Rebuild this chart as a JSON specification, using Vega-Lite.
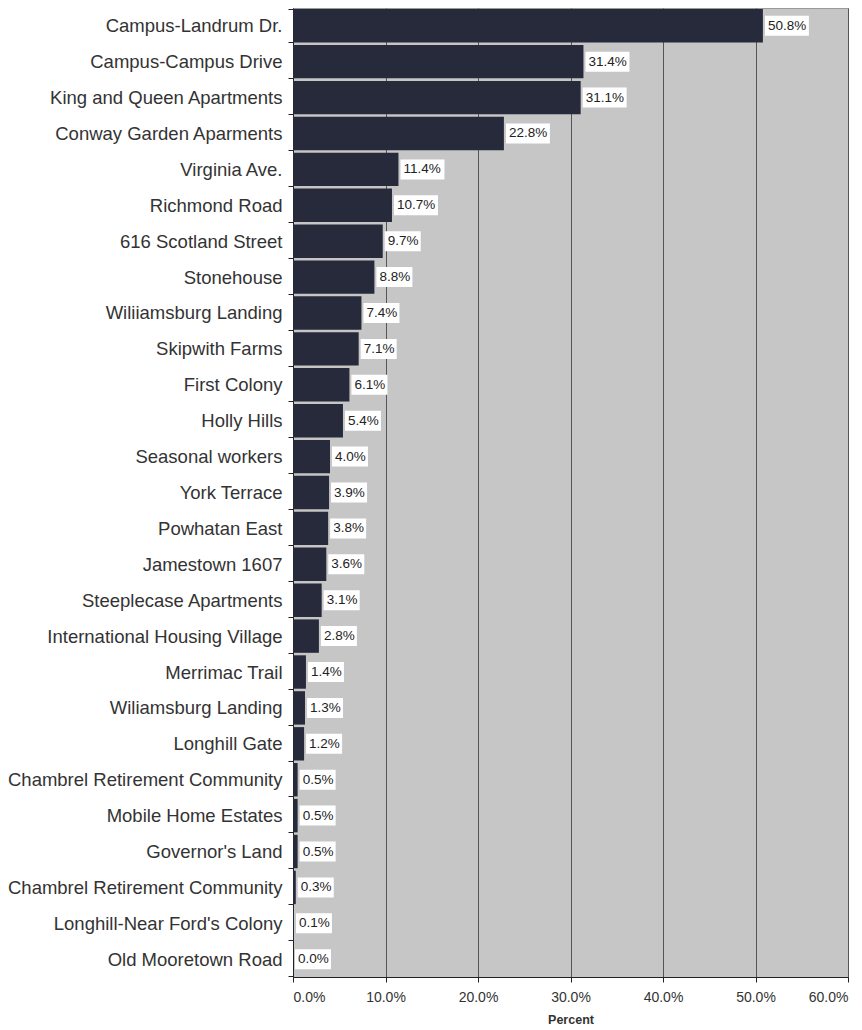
{
  "$schema": "https://vega.github.io/schema/vega-lite/v6.json",
  "autosize": {"type": "none"},
  "padding": {"left": 293, "top": 8, "right": 14, "bottom": 53},
  "width": 555,
  "height": 969,
  "background": "white",
  "config": {
    "font": "Liberation Sans",
    "view": {"fill": "#c6c6c6", "stroke": "#9a9a9a", "strokeWidth": 1}
  },
  "data": {
    "values": [
      {"name": "Campus-Landrum Dr.", "v": 0.508},
      {"name": "Campus-Campus Drive", "v": 0.314},
      {"name": "King and Queen Apartments", "v": 0.311},
      {"name": "Conway Garden Aparments", "v": 0.228},
      {"name": "Virginia Ave.", "v": 0.114},
      {"name": "Richmond Road", "v": 0.107},
      {"name": "616 Scotland Street", "v": 0.097},
      {"name": "Stonehouse", "v": 0.088},
      {"name": "Wiliiamsburg Landing", "v": 0.074},
      {"name": "Skipwith Farms", "v": 0.071},
      {"name": "First Colony", "v": 0.061},
      {"name": "Holly Hills", "v": 0.054},
      {"name": "Seasonal workers", "v": 0.040},
      {"name": "York Terrace", "v": 0.039},
      {"name": "Powhatan East", "v": 0.038},
      {"name": "Jamestown 1607", "v": 0.036},
      {"name": "Steeplecase Apartments", "v": 0.031},
      {"name": "International Housing Village", "v": 0.028},
      {"name": "Merrimac Trail", "v": 0.014},
      {"name": "Wiliamsburg Landing", "v": 0.013},
      {"name": "Longhill Gate", "v": 0.012},
      {"name": "Chambrel Retirement Community", "v": 0.005},
      {"name": "Mobile Home Estates", "v": 0.005},
      {"name": "Governor's Land", "v": 0.005},
      {"name": "Chambrel Retirement Community ", "v": 0.003},
      {"name": "Longhill-Near Ford's Colony", "v": 0.001},
      {"name": "Old Mooretown Road", "v": 0.000}
    ]
  },
  "encoding": {
    "y": {
      "field": "name", "type": "nominal", "sort": null,
      "scale": {"paddingInner": 0.07, "paddingOuter": 0.03},
      "axis": {
        "title": null, "tickBand": "extent", "tickSize": 5, "tickColor": "#222",
        "domainColor": "#222", "labelFontSize": 18.5, "labelColor": "#333",
        "labelPadding": 6, "labelLimit": 400, "grid": false
      }
    },
    "x": {
      "field": "v", "type": "quantitative",
      "scale": {"domain": [0, 0.6], "nice": false},
      "axis": {
        "title": "Percent", "titleFontSize": 12.5, "titleFontWeight": "bold", "titleColor": "#333",
        "titlePadding": 9,
        "format": ".1%", "values": [0, 0.1, 0.2, 0.3, 0.4, 0.5, 0.6],
        "labelFontSize": 14, "labelColor": "#333", "labelPadding": 8,
        "tickSize": 5, "tickColor": "#222", "domainColor": "#222",
        "grid": true, "gridColor": "#555", "gridWidth": 1, "gridOpacity": 1
      }
    }
  },
  "layer": [
    {"mark": {"type": "bar", "color": "#262a3a"}},
    {
      "mark": {"type": "point", "filled": true, "fill": "white", "opacity": 1, "strokeWidth": 0, "size": 400},
      "encoding": {
        "shape": {
          "condition": {"test": "datum.v >= 0.1", "value": "M0.2,-1H4.6V1H0.2Z"},
          "value": "M0.2,-1H3.8V1H0.2Z"
        }
      }
    },
    {
      "mark": {"type": "text", "align": "left", "baseline": "middle", "dx": 5, "fontSize": 13.5, "color": "#222"},
      "encoding": {"text": {"field": "v", "type": "quantitative", "format": ".1%"}}
    }
  ]
}
